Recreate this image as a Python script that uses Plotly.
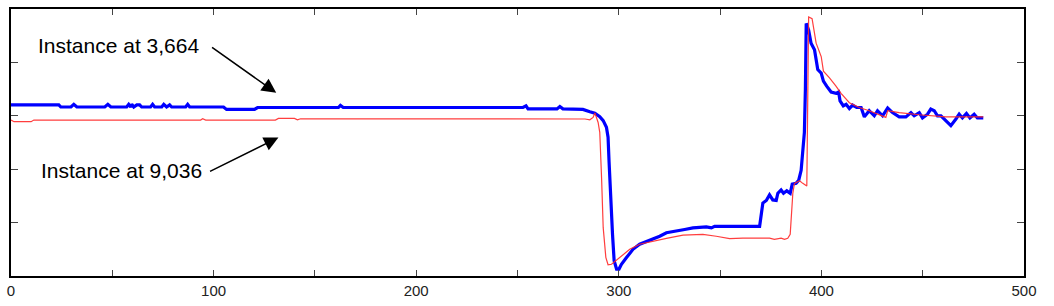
import plotly.graph_objects as go

# Instance at 3,664 (blue, thick)
blue_x = [0, 23.6, 24.6, 29.6, 31.0, 32.5, 46.3, 47.8, 49.3, 57.1, 58.1, 59.1, 59.6, 60.6, 62.1, 63.5,
          64.5, 68.9, 69.9, 70.9, 74.4, 75.4, 76.8, 78.3, 79.3, 86.2, 87.2, 88.2, 104.9, 106.4, 120.2,
          121.7, 161.6, 162.6, 164.0, 252.7, 254.2, 255.2, 269.5, 270.9, 272.4, 282.3, 285.7, 288.2,
          290.6, 292.3, 293.9, 294.7, 295.2, 295.9, 296.9, 297.7, 298.9, 300.1, 301.3, 303.8, 307.0,
          310.3, 315.3, 320.2, 323.5, 329.2, 332.5, 336.6, 343.2, 345.7, 347.3, 369.5, 370.3, 371.1,
          372.8, 374.4, 376.0, 377.7, 378.5, 380.1, 381.3, 382.9, 384.6, 385.6, 387.5, 388.8, 390.0,
          390.8, 391.6, 392.1, 392.5, 393.7, 394.9, 396.6, 398.2, 399.9, 401.0, 402.6, 404.8, 407.2,
          408.5, 409.2, 410.8, 412.2, 413.8, 415.4, 417.4, 419.6, 421.2, 423.6, 426.1, 427.7, 430.2,
          432.7, 435.1, 438.4, 441.7, 444.2, 445.8, 448.3, 449.9, 452.4, 454.0, 455.7, 457.3, 459.0,
          461.4, 463.9, 466.4, 468.0, 469.6, 471.6, 473.3, 475.4, 477.0, 479.9]
blue_y = [64.1, 64.1, 63.3, 63.3, 64.3, 63.3, 63.3, 64.3, 63.3, 63.3, 64.3, 63.3, 64.3, 63.3, 64.1, 64.1,
          63.3, 63.3, 64.3, 63.3, 63.3, 64.3, 63.3, 64.1, 63.3, 63.3, 64.3, 63.3, 63.3, 62.4, 62.4,
          63.1, 63.1, 63.9, 63.1, 63.1, 63.7, 62.6, 62.6, 63.5, 62.6, 62.4, 61.5, 61.0,
          59.7, 58.2, 55.7, 52.0, 42.7, 30.4, 15.6, 5.7, 2.6, 2.6, 4.4, 6.9, 10.0,
          11.9, 13.3, 14.9, 16.2, 16.8, 17.4, 18.0, 18.4, 18.0, 18.6, 18.6, 22.3, 27.3,
          28.3, 30.4, 28.5, 28.3, 31.0, 32.2, 31.0, 31.9, 31.0, 34.4, 34.7, 35.9, 39.6,
          47.7, 53.8, 70.0, 94.6, 92.1, 87.2, 84.7, 77.3, 76.0, 73.0, 71.1, 68.9, 68.4,
          68.9, 65.6, 63.7, 64.3, 62.7, 64.0, 63.1, 63.1, 59.6, 61.9, 60.0, 61.9, 60.0,
          62.9, 61.2, 59.6, 59.6, 61.2, 60.0, 61.2, 59.2, 60.6, 62.5, 61.9, 60.0, 60.0,
          58.2, 56.3, 58.8, 60.6, 59.2, 60.9, 59.2, 60.6, 59.2, 59.2]

# Instance at 9,036 (red, thin)
red_x = [0, 1.5, 9.9, 11.3, 93.6, 94.6, 96.1, 130.5, 132.0, 139.9, 141.4, 142.9, 283.3, 285.7, 287.3,
         288.2, 289.8, 290.6, 291.5, 292.3, 293.6, 294.7, 296.4, 300.5, 305.4, 310.3, 316.9, 323.5,
         331.7, 341.5, 348.1, 349.8, 354.7, 361.2, 374.4, 376.8, 380.1, 381.8, 383.4, 384.6, 385.9,
         386.7, 389.2, 390.8, 392.8, 393.7, 395.4, 397.4, 399.9, 401.0, 404.0, 407.2, 409.7, 413.8,
         418.7, 423.6, 431.8, 432.7, 438.4, 448.3, 461.4, 479.9]
red_y = [58.4, 57.8, 57.8, 58.4, 58.4, 58.9, 58.4, 58.4, 59.0, 59.0, 58.5, 58.9, 58.8, 58.5, 59.4,
         61.1, 57.5, 53.8, 36.7, 18.1, 7.0, 4.2, 4.4, 6.9, 10.0, 11.9, 13.1, 14.1,
         15.3, 15.6, 14.9, 14.7, 14.0, 14.2, 14.2, 13.7, 14.2, 13.7, 14.1, 15.6, 31.0,
         34.7, 35.7, 34.7, 33.7, 97.0, 96.4, 87.2, 82.2, 76.7, 74.2, 71.1, 68.4, 64.9,
         63.1, 61.9, 59.4, 61.9, 61.2, 60.4, 59.6, 59.6]

x_ticks = [0, 50, 100, 150, 200, 250, 300, 350, 400, 450, 500]
x_labels = ["0", "", "100", "", "200", "", "300", "", "400", "", "500"]
y_ticks = [0, 20, 40, 60, 80, 100]

fig = go.Figure()
fig.add_trace(go.Scatter(x=blue_x, y=blue_y, mode="lines",
                         line=dict(color="#0000ff", width=3.2), name="Instance at 3,664"))
fig.add_trace(go.Scatter(x=red_x, y=red_y, mode="lines",
                         line=dict(color="#ff2a2a", width=1.2), opacity=0.9, name="Instance at 9,036"))

font_txt = dict(family="Liberation Sans, Arial, sans-serif", size=21, color="black")
fig.add_annotation(x=53.1, y=86.4, xref="x", yref="y", text="Instance at 3,664",
                   showarrow=False, font=font_txt)
fig.add_annotation(x=130.9, y=68.6, ax=98.5, ay=86.0, xref="x", yref="y", axref="x", ayref="y",
                   text="", showarrow=True, arrowhead=2, arrowsize=1.8, arrowwidth=1.6, arrowcolor="black")
fig.add_annotation(x=54.5, y=39.6, xref="x", yref="y", text="Instance at 9,036",
                   showarrow=False, font=font_txt)
fig.add_annotation(x=132.0, y=51.9, ax=97.5, ay=38.9, xref="x", yref="y", axref="x", ayref="y",
                   text="", showarrow=True, arrowhead=2, arrowsize=1.8, arrowwidth=1.6, arrowcolor="black")

fig.update_layout(
    width=1054, height=306,
    margin=dict(l=10, r=30, t=7, b=29),
    paper_bgcolor="white", plot_bgcolor="white",
    showlegend=False,
    font=dict(family="Liberation Sans, Arial, sans-serif", size=15, color="#222"),
)
fig.update_xaxes(range=[0, 500], tickvals=x_ticks, ticktext=x_labels, ticks="inside", ticklen=6,
                 tickcolor="#444", tickwidth=1, showgrid=False, zeroline=False,
                 showline=True, linecolor="black", linewidth=2, mirror="allticks",
                 tickfont=dict(size=15, color="#222"))
fig.update_yaxes(range=[0, 100], tickvals=y_ticks, showticklabels=False, ticks="inside", ticklen=7,
                 tickcolor="#444", tickwidth=1, showgrid=False, zeroline=False,
                 showline=True, linecolor="black", linewidth=2, mirror="allticks")

fig.write_html("out.html")
